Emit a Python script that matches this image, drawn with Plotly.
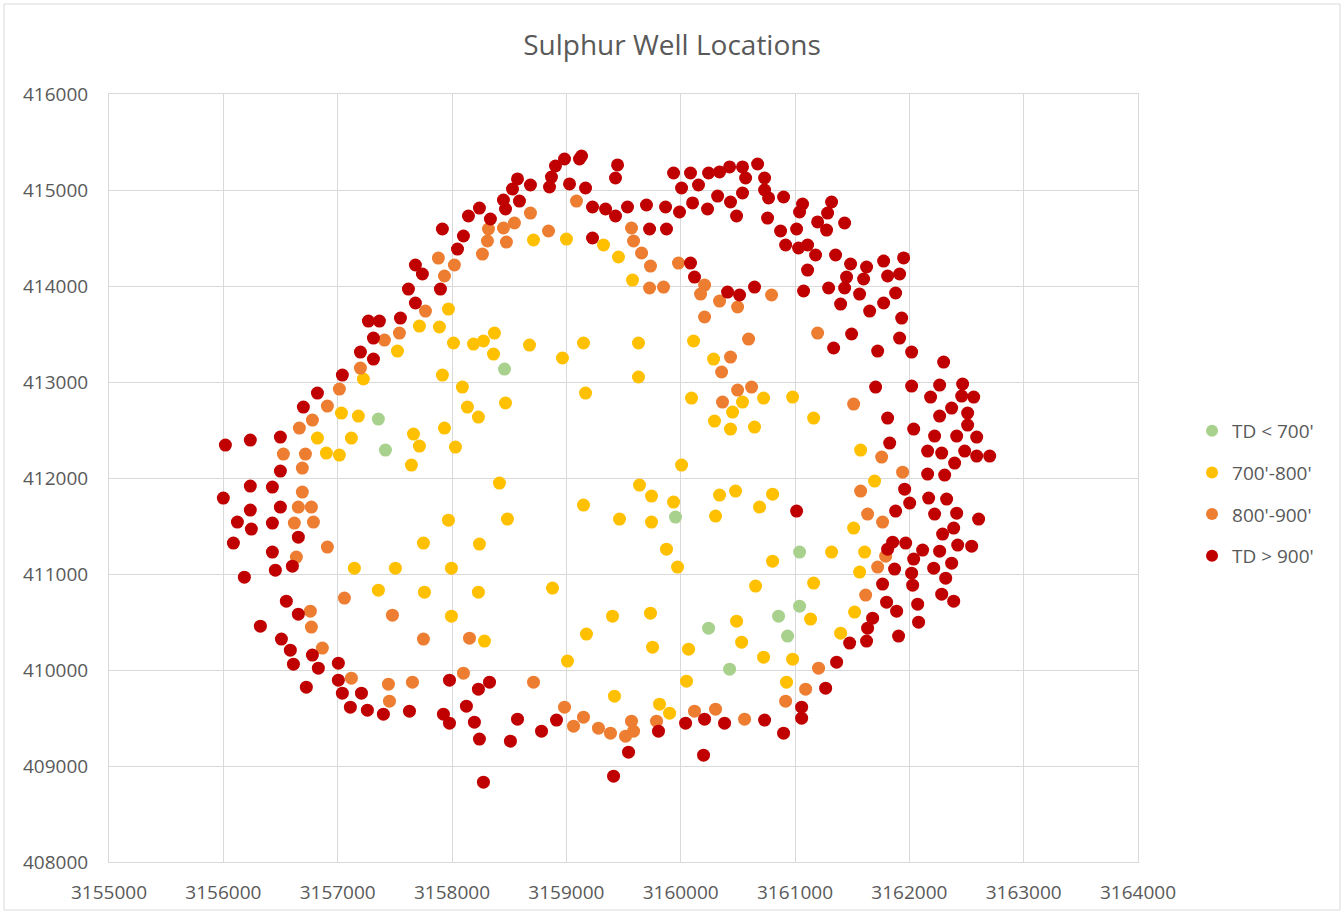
import plotly.graph_objects as go

# Well surface locations (easting, northing) grouped by total depth
td_lt700_x = [3157356, 3157418, 3158459, 3159955, 3161040, 3160244, 3160856, 3160935, 3160428, 3161040]
td_lt700_y = [412614, 412291, 413135, 411593, 411228, 410436, 410561, 410353, 410009, 410665]

td_700_800_x = [
    3158713, 3159001, 3157969, 3157715, 3157890, 3158371, 3158275, 3158188, 3158013, 3158678,
    3159150, 3159325, 3157523, 3159456, 3159579, 3159631, 3160113, 3157225, 3157033, 3157181,
    3156823, 3157120, 3156901, 3157015, 3157146, 3157505, 3158363, 3158966, 3157916, 3158091,
    3158468, 3158135, 3158231, 3159168, 3157934, 3157663, 3157715, 3158030, 3157645, 3158415,
    3159150, 3157969, 3158485, 3157750, 3158240, 3157995, 3160288, 3159631, 3160095, 3160541,
    3160454, 3160725, 3160979, 3160296, 3160436, 3160646, 3160008, 3159640, 3159745, 3159938,
    3160340, 3160480, 3160804, 3160690, 3159465, 3159745, 3160305, 3159876, 3159973, 3160804,
    3161163, 3161574, 3161696, 3161513, 3161320, 3161609, 3161565, 3157356, 3157759, 3158231,
    3158879, 3157995, 3158284, 3159176, 3159010, 3160655, 3159404, 3159736, 3160489, 3159754,
    3160069, 3160533, 3160725, 3160979, 3160051, 3160926, 3159421, 3159815, 3159903, 3161163,
    3161136, 3161521, 3161399,
]
td_700_800_y = [
    414479, 414489, 413760, 413583, 413573, 413510, 413427, 413395, 413406, 413385,
    413406, 414427, 413322, 414302, 414062, 413406, 413427, 413031, 412676, 412645,
    412416, 412416, 412260, 412239, 411061, 411061, 413291, 413250, 413072, 412947,
    412781, 412739, 412635, 412885, 412520, 412458, 412333, 412322, 412135, 411947,
    411718, 411561, 411572, 411322, 411312, 411061, 413239, 413052, 412833, 412791,
    412687, 412833, 412843, 412593, 412510, 412530, 412135, 411926, 411812, 411749,
    411822, 411864, 411832, 411697, 411572, 411541, 411603, 411259, 411072, 411134,
    412624, 412291, 411968, 411478, 411228, 411228, 411020, 410832, 410811, 410811,
    410853, 410561, 410301, 410374, 410093, 410874, 410561, 410592, 410509, 410238,
    410217, 410290, 410134, 410113, 409884, 409873, 409727, 409644, 409550, 410905,
    410530, 410603, 410384,
]

td_800_900_x = [
    3157409, 3157540, 3159089, 3158686, 3158546, 3158450, 3158319, 3158310, 3158476, 3158844,
    3158266, 3157881, 3158021, 3157934, 3157768, 3159570, 3159588, 3159658, 3159736, 3159981,
    3159728, 3159850, 3160209, 3160174, 3160340, 3160498, 3160795, 3160209, 3160594, 3161198,
    3157199, 3157015, 3156910, 3156779, 3156665, 3156525, 3156718, 3156691, 3156691, 3156656,
    3156770, 3156621, 3156788, 3156910, 3156639, 3160436, 3160358, 3160498, 3160620, 3160366,
    3161513, 3161758, 3161941, 3161574, 3161635, 3161766, 3161793, 3161723, 3156761, 3156770,
    3156866, 3157059, 3157479, 3157120, 3157444, 3157453, 3157750, 3158153, 3157654, 3158100,
    3158713, 3158984, 3159150, 3159063, 3159281, 3159386, 3159570, 3159588, 3159518, 3159789,
    3160121, 3160305, 3160559, 3160918, 3161618, 3161206, 3161093,
]
td_800_900_y = [
    413437, 413510, 414885, 414760, 414656, 414604, 414594, 414469, 414458, 414573,
    414333, 414291, 414219, 414104, 413739, 414604, 414469, 414344, 414208, 414239,
    413979, 413989, 414010, 413916, 413843, 413781, 413906, 413677, 413447, 413510,
    413145, 412926, 412749, 412603, 412520, 412249, 412249, 412103, 411853, 411697,
    411697, 411530, 411541, 411280, 411176, 413260, 413104, 412916, 412947, 412791,
    412770, 412218, 412061, 411864, 411624, 411541, 411186, 411072, 410613, 410447,
    410228, 410749, 410571, 409915, 409852, 409675, 410322, 410332, 409873, 409967,
    409873, 409613, 409509, 409415, 409394, 409342, 409467, 409363, 409311, 409467,
    409571, 409592, 409488, 409675, 410780, 410019, 409800,
]

td_gt900_x = [
    3157269, 3157365, 3157549, 3157313, 3157199, 3157313, 3159115, 3159133, 3158984, 3158905,
    3158870, 3158853, 3159028, 3159168, 3159229, 3159229, 3158686, 3158573, 3158529, 3158590,
    3158450, 3158468, 3158240, 3158144, 3158336, 3158100, 3157916, 3158048, 3157680, 3157741,
    3157619, 3157899, 3157680, 3159448, 3159430, 3159938, 3160086, 3160244, 3160340, 3160428,
    3160541, 3160673, 3160568, 3160734, 3160008, 3160156, 3160323, 3160436, 3160541, 3160734,
    3160769, 3160900, 3161040, 3161066, 3159343, 3159430, 3159535, 3159701, 3159868, 3159990,
    3160104, 3160235, 3160489, 3160760, 3159728, 3159876, 3160874, 3161014, 3160918, 3161031,
    3160086, 3160121, 3160410, 3160515, 3160646, 3161075, 3161320, 3161285, 3161198, 3161276,
    3161434, 3161110, 3161180, 3161355, 3161486, 3161626, 3161775, 3161950, 3161110, 3161451,
    3161600, 3161810, 3161915, 3161294, 3161434, 3161565, 3161880, 3161399, 3161775, 3161653,
    3161933, 3161495, 3161915, 3161338, 3161723, 3162020, 3157041, 3156823, 3156700, 3156499,
    3156018, 3156236, 3156499, 3156236, 3156429, 3156000, 3156236, 3156499, 3156123, 3156245,
    3156429, 3156656, 3156088, 3156429, 3156604, 3156455, 3162300, 3161705, 3162020, 3162265,
    3162466, 3162186, 3162458, 3162563, 3162370, 3161810, 3162265, 3162510, 3162510, 3162038,
    3162221, 3162414, 3162589, 3161828, 3162160, 3162283, 3162484, 3162589, 3162703, 3162396,
    3162160, 3162309, 3161959, 3162169, 3162326, 3162003, 3161880, 3162221, 3162414, 3162606,
    3162388, 3162291, 3161854, 3161810, 3161968, 3162116, 3162265, 3162423, 3162545, 3162038,
    3161871, 3162213, 3162370, 3161014, 3156184, 3156551, 3156656, 3156324, 3156508, 3156586,
    3156613, 3156779, 3156831, 3157006, 3157006, 3157041, 3157208, 3156726, 3157111, 3157260,
    3157400, 3157978, 3158231, 3158328, 3158126, 3157628, 3157925, 3157978, 3158196, 3158240,
    3158573, 3158511, 3158783, 3158914, 3158275, 3159806, 3160043, 3160209, 3160384, 3160734,
    3160900, 3161058, 3161058, 3159544, 3160200, 3159413, 3162020, 3162318, 3161766, 3162029,
    3161801, 3161889, 3162073, 3162283, 3162388, 3162081, 3161679, 3161635, 3161906, 3161626,
    3161478, 3161364, 3161268,
]
td_gt900_y = [
    413635, 413635, 413666, 413458, 413312, 413239, 415323, 415354, 415323, 415250,
    415135, 415031, 415063, 415021, 414823, 414500, 415052, 415115, 415010, 414885,
    414896, 414802, 414812, 414729, 414698, 414521, 414594, 414385, 414219, 414125,
    413968, 413968, 413823, 415261, 415125, 415177, 415177, 415177, 415188, 415240,
    415240, 415271, 415125, 415125, 415021, 415052, 414937, 414875, 414969, 415000,
    414917, 414927, 414771, 414854, 414802, 414729, 414823, 414844, 414823, 414771,
    414865, 414802, 414729, 414708, 414594, 414594, 414573, 414594, 414427, 414396,
    414239, 414093, 413937, 413906, 413989, 413948, 414875, 414760, 414667, 414583,
    414656, 414427, 414323, 414323, 414229, 414198, 414260, 414292, 414166, 414093,
    414073, 414104, 414125, 413979, 413979, 413916, 413927, 413812, 413823, 413739,
    413666, 413500, 413458, 413354, 413322, 413312, 413072, 412885, 412739, 412426,
    412343, 412395, 412072, 411916, 411905, 411791, 411666, 411697, 411541, 411468,
    411530, 411384, 411322, 411228, 411082, 411040, 413208, 412947, 412958, 412968,
    412979, 412843, 412853, 412843, 412728, 412624, 412645, 412676, 412551, 412510,
    412437, 412437, 412426, 412364, 412280, 412260, 412280, 412228, 412228, 412155,
    412041, 412030, 411884, 411791, 411780, 411739, 411655, 411624, 411634, 411572,
    411478, 411416, 411332, 411259, 411322, 411249, 411238, 411301, 411290, 411155,
    411051, 411061, 411113, 411655, 410967, 410717, 410582, 410457, 410322, 410207,
    410061, 410155, 410019, 410071, 409894, 409759, 409759, 409821, 409613, 409582,
    409540, 409894, 409800, 409873, 409623, 409571, 409540, 409446, 409457, 409280,
    409488, 409259, 409363, 409478, 408831, 409363, 409446, 409488, 409446, 409478,
    409342, 409613, 409498, 409144, 409113, 408894, 411009, 410957, 410895, 410884,
    410707, 410613, 410686, 410790, 410717, 410498, 410540, 410436, 410353, 410301,
    410280, 410082, 409811,
]

series = [
    ("TD < 700'", td_lt700_x, td_lt700_y, "#A9D18E"),
    ("700'-800'", td_700_800_x, td_700_800_y, "#FFC000"),
    ("800'-900'", td_800_900_x, td_800_900_y, "#ED7D31"),
    ("TD > 900'", td_gt900_x, td_gt900_y, "#C00000"),
]

x_ticks = list(range(3155000, 3164001, 1000))
y_ticks = list(range(408000, 416001, 1000))

fig = go.Figure()
for i, (name, xs, ys, color) in enumerate(series):
    fig.add_trace(go.Scatter(
        x=xs, y=ys, mode="markers", name=name, legendgroup=f"g{i}",
        marker=dict(size=13, color=color, line=dict(width=0)),
    ))

grid = "#D9D9D9"
text_color = "#595959"
font_family = "Open Sans, Noto Sans, sans-serif"

fig.update_layout(
    width=1344, height=914,
    paper_bgcolor="white", plot_bgcolor="white",
    margin=dict(l=109, r=206, t=94, b=52),
    title=dict(text="Sulphur Well Locations", x=0.5, xref="container", xanchor="center",
               y=1 - 45 / 914, yanchor="middle",
               font=dict(family=font_family, size=28, color=text_color)),
    font=dict(family=font_family, size=19, color=text_color),
    showlegend=True,
    legend=dict(x=1.0525, xanchor="left", y=0.48, yanchor="middle",
                font=dict(size=19, color=text_color), tracegroupgap=14,
                itemsizing="constant", bgcolor="rgba(0,0,0,0)"),
    xaxis=dict(range=[3155000, 3164000], tickmode="array", tickvals=x_ticks,
               ticktext=[str(v) for v in x_ticks], showgrid=True, gridcolor=grid, gridwidth=1,
               showline=True, linecolor=grid, linewidth=1, mirror=True, zeroline=False,
               automargin=False,
               ticks="", ticklabelstandoff=13, tickfont=dict(size=19, color=text_color)),
    yaxis=dict(range=[408000, 416000], tickmode="array", tickvals=y_ticks,
               ticktext=[str(v) for v in y_ticks], showgrid=True, gridcolor=grid, gridwidth=1,
               showline=True, linecolor=grid, linewidth=1, mirror=True, zeroline=False,
               automargin=False,
               ticks="", ticklabelstandoff=16, tickfont=dict(size=19, color=text_color)),
)

# Light frame around the whole chart area
fig.add_shape(type="rect", xref="paper", yref="paper",
              x0=-105 / 1029, x1=(1340 - 109) / 1029,
              y0=-(914 - 862 - 4) / 768, y1=(862 - 4) / 768,
              line=dict(color="#D9D9D9", width=1), fillcolor="rgba(0,0,0,0)", layer="below")

fig.write_html("out.html")
